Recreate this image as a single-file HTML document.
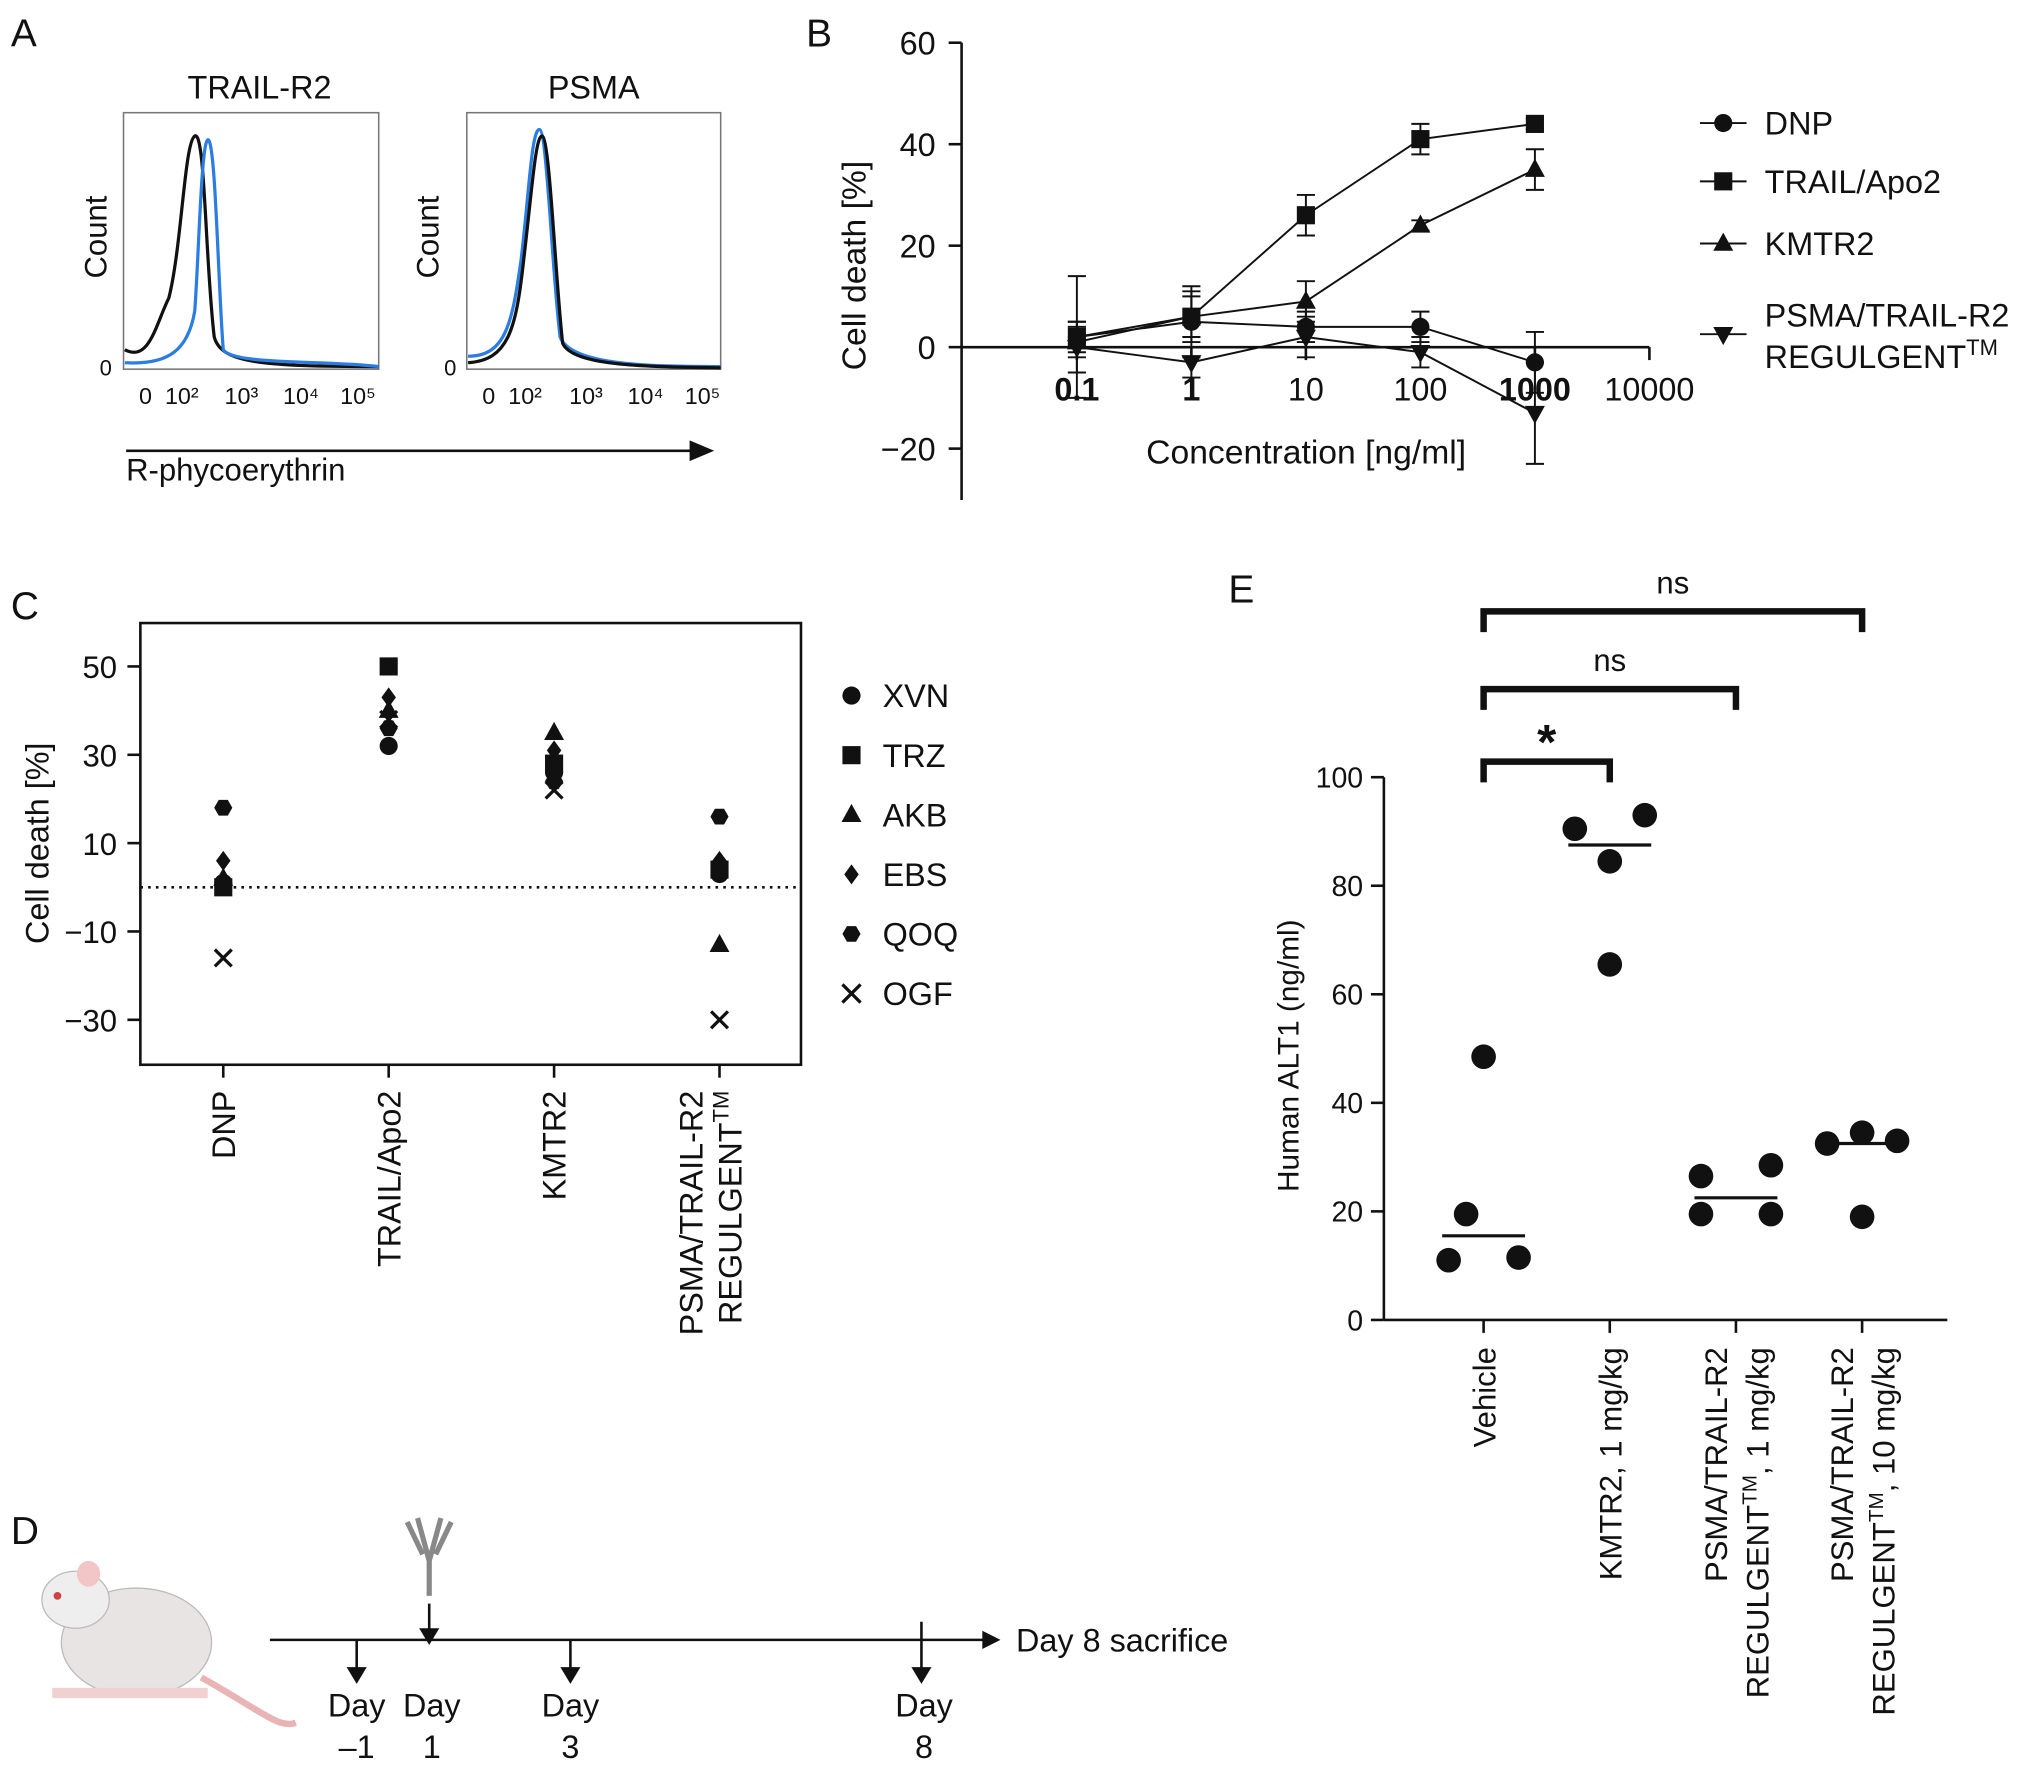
<!DOCTYPE html>
<html><head><meta charset="utf-8"><style>body{margin:0;background:#fff}svg{display:block}text{font-family:"Liberation Sans",sans-serif;fill:#111}</style></head>
<body>
<svg id="fig" width="2032" height="1772" viewBox="0 0 1568 1368" xmlns="http://www.w3.org/2000/svg">
<!-- Panel A -->
<g>
<text x="8" y="36" font-size="30">A</text>
<text x="200" y="76" font-size="25" text-anchor="middle">TRAIL-R2</text>
<text x="458" y="76" font-size="25" text-anchor="middle">PSMA</text>
<rect x="95" y="87" width="197" height="198" fill="none" stroke="#777" stroke-width="1.2"/>
<rect x="360" y="87" width="196" height="198" fill="none" stroke="#777" stroke-width="1.2"/>
<path d="M96 270 C115 280 120 250 130 230 C140 190 142 110 150 105 C158 100 158 200 165 260 C170 280 200 283 292 283" fill="none" stroke="#111" stroke-width="2.5"/>
<path d="M96 280 C130 282 145 270 150 240 C153 200 155 110 160 108 C166 105 168 220 172 270 C180 282 250 278 292 283" fill="none" stroke="#2a7de1" stroke-width="2.5"/>
<path d="M361 275 C390 275 395 250 402 200 C408 150 410 100 416 100 C422 100 425 200 432 260 C440 282 500 283 556 283" fill="none" stroke="#2a7de1" stroke-width="2.5"/>
<path d="M361 280 C392 278 398 255 404 200 C410 150 413 105 418 105 C424 105 428 210 434 265 C442 283 500 283 556 284" fill="none" stroke="#111" stroke-width="2.5"/>
<text x="82" y="183" font-size="24" transform="rotate(-90 82 183)" text-anchor="middle">Count</text>
<text x="338" y="183" font-size="24" transform="rotate(-90 338 183)" text-anchor="middle">Count</text>
<text x="86" y="290" font-size="17" text-anchor="end">0</text><text x="352" y="290" font-size="17" text-anchor="end">0</text>
<g font-size="18">
<text x="112" y="312" text-anchor="middle">0</text><text x="140" y="312" text-anchor="middle">10²</text><text x="186" y="312" text-anchor="middle">10³</text><text x="232" y="312" text-anchor="middle">10⁴</text><text x="276" y="312" text-anchor="middle">10⁵</text>
<text x="377" y="312" text-anchor="middle">0</text><text x="405" y="312" text-anchor="middle">10²</text><text x="452" y="312" text-anchor="middle">10³</text><text x="498" y="312" text-anchor="middle">10⁴</text><text x="542" y="312" text-anchor="middle">10⁵</text>
</g>
<line x1="97" y1="348" x2="535" y2="348" stroke="#111" stroke-width="2"/>
<polygon points="532,340 551,348 532,356" fill="#111"/>
<text x="97" y="371" font-size="24">R-phycoerythrin</text>
</g>
<!-- Panel B -->
<g id="pb">
<text x="622" y="36" font-size="30">B</text>
<text x="668" y="205" font-size="26" transform="rotate(-90 668 205)" text-anchor="middle">Cell death [%]</text>
<text x="1008" y="358" font-size="26" text-anchor="middle">Concentration [ng/ml]</text>
</g>
<!-- Panel C -->
<g id="pc">
<text x="8" y="478" font-size="30">C</text>
<rect x="108" y="481" width="510" height="341" fill="none" stroke="#111" stroke-width="2"/>
<text x="37" y="651" font-size="25" transform="rotate(-90 37 651)" text-anchor="middle">Cell death [%]</text>
</g>
<!-- Panel D -->
<g>
<text x="8" y="1192" font-size="30">D</text>
<g>
<ellipse cx="105" cy="1268" rx="58" ry="42" fill="#e9e4e4" stroke="#bbb"/>
<ellipse cx="58" cy="1235" rx="26" ry="22" fill="#eee" stroke="#bbb"/>
<ellipse cx="68" cy="1215" rx="9" ry="10" fill="#f2c6c6"/>
<circle cx="44" cy="1232" r="3" fill="#c44"/>
<path d="M155 1295 C200 1320 215 1335 228 1330" fill="none" stroke="#e8b4b4" stroke-width="5"/>
<rect x="40" y="1303" width="120" height="8" fill="#f0d0d0"/>
</g>
<line x1="208" y1="1266" x2="760" y2="1266" stroke="#111" stroke-width="2"/>
<polygon points="758,1259 772,1266 758,1273" fill="#111"/>
<text x="784" y="1275" font-size="25">Day 8 sacrifice</text>
<g stroke="#111" stroke-width="2" fill="#111">
<line x1="275" y1="1266" x2="275" y2="1292"/><polygon points="269,1288 281,1288 275,1298"/>
<line x1="331" y1="1238" x2="331" y2="1262"/><polygon points="325,1258 337,1258 331,1268"/>
<line x1="440" y1="1266" x2="440" y2="1292"/><polygon points="434,1288 446,1288 440,1298"/>
<line x1="711" y1="1252" x2="711" y2="1292"/><polygon points="705,1288 717,1288 711,1298"/>
</g>
<path d="M322 1172 L331 1205 L340 1172 M314 1175 L326 1200 M348 1175 L336 1200 M331 1205 L331 1232" fill="none" stroke="#888" stroke-width="4"/>
<g font-size="25" text-anchor="middle">
<text x="275" y="1325">Day</text><text x="275" y="1357">–1</text>
<text x="333" y="1325">Day</text><text x="333" y="1357">1</text>
<text x="440" y="1325">Day</text><text x="440" y="1357">3</text>
<text x="713" y="1325">Day</text><text x="713" y="1357">8</text>
</g>
</g>
<!-- Panel E -->
<g id="pe">
<text x="948" y="465" font-size="30">E</text>
<text x="1002" y="815" font-size="23" transform="rotate(-90 1002 815)" text-anchor="middle">Human ALT1 (ng/ml)</text>
</g>
</svg>
<script>
const NS="http://www.w3.org/2000/svg";
function mk(parent,tag,attrs,txt){const e=document.createElementNS(NS,tag);for(const k in attrs)e.setAttribute(k,attrs[k]);if(txt!==undefined)e.textContent=txt;parent.appendChild(e);return e;}
function marker(g,shape,x,y,s){
  let e;
  if(shape==='circle') e=mk(g,'circle',{cx:x,cy:y,r:s,fill:'#111'});
  else if(shape==='square') e=mk(g,'rect',{x:x-s,y:y-s,width:2*s,height:2*s,fill:'#111'});
  else if(shape==='tri') e=mk(g,'polygon',{points:`${x},${y-s*1.2} ${x-s*1.1},${y+s*0.8} ${x+s*1.1},${y+s*0.8}`,fill:'#111'});
  else if(shape==='tridown') e=mk(g,'polygon',{points:`${x},${y+s*1.2} ${x-s*1.1},${y-s*0.8} ${x+s*1.1},${y-s*0.8}`,fill:'#111'});
  else if(shape==='diamond') e=mk(g,'polygon',{points:`${x},${y-s*1.1} ${x+s*0.8},${y} ${x},${y+s*1.1} ${x-s*0.8},${y}`,fill:'#111'});
  else if(shape==='hex') e=mk(g,'polygon',{points:[0,1,2,3,4,5].map(i=>`${x+s*Math.cos(i*Math.PI/3)},${y+s*Math.sin(i*Math.PI/3)}`).join(' '),fill:'#111'});
  else if(shape==='x') e=mk(g,'path',{d:`M${x-s} ${y-s}L${x+s} ${y+s}M${x+s} ${y-s}L${x-s} ${y+s}`,stroke:'#111','stroke-width':2.5,fill:'none'});
  return e;
}
// ---------- Panel B data ----------
const bConc=[0.1,1,10,100,1000];
const bSeriesNames=["DNP","TRAIL/Apo2","KMTR2","PSMA/TRAIL-R2"];
const bDNP=[2,5,4,4,-3];
const bTRAIL=[2,6,26,41,44];
const bKMTR2=[1,6,9,24,35];
const bPSMA=[0,-3,2,-1,-13];
const bErrDNP=[12,7,3,3,6];
const bErrTRAIL=[3,5,4,3,1];
const bErrKMTR2=[3,4,4,1,4];
const bErrPSMA=[5,3,4,3,10];
const bYTicks=[60,40,20,0,-20];
const bXTicks=["0.1","1","10","100","1000","10000"];
(function(){
  const g=document.getElementById('pb');
  const y=v=>268-v*3.917, x=c=>831+Math.log10(c/0.1)*88.4;
  mk(g,'line',{x1:742,y1:33,x2:742,y2:386,stroke:'#111','stroke-width':2});
  mk(g,'line',{x1:742,y1:268,x2:1273,y2:268,stroke:'#111','stroke-width':2});
  bYTicks.forEach(t=>{mk(g,'line',{x1:732,y1:y(t),x2:742,y2:y(t),stroke:'#111','stroke-width':2});
    const e=mk(g,'text',{x:722,y:y(t)+9,'font-size':25,'text-anchor':'end'},t<0?'−'+(-t):t);
    });
  bXTicks.forEach(t=>{const xx=x(+t);mk(g,'line',{x1:xx,y1:268,x2:xx,y2:278,stroke:'#111','stroke-width':2});
    const e=mk(g,'text',{x:xx,y:309,'font-size':25,'text-anchor':'middle','font-weight':(t==="0.1"||t==="1"||t==="1000")?'bold':'normal'},t);
    });
  const series=[[bDNP,bErrDNP,'circle'],[bTRAIL,bErrTRAIL,'square'],[bKMTR2,bErrKMTR2,'tri'],[bPSMA,bErrPSMA,'tridown']];
  series.forEach(([vals,errs,sh],si)=>{
    const sg=mk(g,'g',{});
    
    
    mk(sg,'polyline',{points:vals.map((v,i)=>x(bConc[i])+','+y(v)).join(' '),fill:'none',stroke:'#111','stroke-width':1.5});
    vals.forEach((v,i)=>{const xx=x(bConc[i]);
      mk(sg,'path',{d:`M${xx} ${y(v+errs[i])}V${y(v-errs[i])}M${xx-7} ${y(v+errs[i])}h14M${xx-7} ${y(v-errs[i])}h14`,stroke:'#111','stroke-width':1.5,fill:'none'});
      const m=marker(sg,sh,xx,y(v),7);});
  });
  const leg=[["DNP",'circle',95],["TRAIL/Apo2",'square',140],["KMTR2",'tri',188],["PSMA/TRAIL-R2",'tridown',258]];
  leg.forEach(([n,sh,ly])=>{const lg=mk(g,'g',{});
    mk(lg,'line',{x1:1312,y1:ly,x2:1348,y2:ly,stroke:'#111','stroke-width':1.5});marker(lg,sh,1330,ly,7);
    if(sh==='tridown'){mk(lg,'text',{x:1362,y:ly-6,'font-size':25},n);const t=mk(lg,'text',{x:1362,y:ly+26,'font-size':25},'REGULGENT');mk(t,'tspan',{'font-size':17,dy:-10},'TM');}
    else mk(lg,'text',{x:1362,y:ly+9,'font-size':25},n);});
})();
// ---------- Panel C data ----------
const cCats=["DNP","TRAIL/Apo2","KMTR2","PSMA/TRAIL-R2"];
const cDonors=["XVN","TRZ","AKB","EBS","QOQ","OGF"];
const cXVN=[1,32,26,3];
const cTRZ=[0,50,28,4];
const cAKB=[2,40,35,-13];
const cEBS=[6,43,31,6];
const cQOQ=[18,36,24,16];
const cOGF=[-16,38,22,-30];
const cYTicks=[50,30,10,-10,-30];
(function(){
  const g=document.getElementById('pc');
  const y=v=>685-v*3.41, x=i=>172+i*127.7;
  cYTicks.forEach(t=>{mk(g,'line',{x1:98,y1:y(t),x2:108,y2:y(t),stroke:'#111','stroke-width':2});
    const e=mk(g,'text',{x:90,y:y(t)+9,'font-size':24,'text-anchor':'end'},t<0?'−'+(-t):t);});
  mk(g,'line',{x1:108,y1:y(0),x2:618,y2:y(0),stroke:'#111','stroke-width':2,'stroke-dasharray':'2 4'});
  cCats.forEach((c,i)=>{mk(g,'line',{x1:x(i),y1:822,x2:x(i),y2:832,stroke:'#111','stroke-width':2});
    const tx=x(i)+9;
    const e=mk(g,'text',{x:tx,y:842,'font-size':25,'text-anchor':'end',transform:`rotate(-90 ${tx} 842)`},c);
    
    if(i===3){e.setAttribute('x',tx-22);e.setAttribute('transform',`rotate(-90 ${tx-22} 842)`);const t=mk(g,'text',{x:tx+8,y:842,'font-size':25,'text-anchor':'end',transform:`rotate(-90 ${tx+8} 842)`},'REGULGENT');mk(t,'tspan',{'font-size':17,dy:-10},'TM');}});
  const shapes=['circle','square','tri','diamond','hex','x'];
  [cXVN,cTRZ,cAKB,cEBS,cQOQ,cOGF].forEach((arr,si)=>{
    arr.forEach((v,i)=>{const m=marker(g,shapes[si],x(i),y(v),shapes[si]==='x'?6.5:7);});
    const ly=537+si*46;const lg=mk(g,'g',{});
    marker(lg,shapes[si],657,ly,7);mk(lg,'text',{x:681,y:ly+9,'font-size':25},cDonors[si]);
  });
})();
// ---------- Panel E data ----------
const eCats=["Vehicle","KMTR2, 1 mg/kg","PSMA/TRAIL-R2 1","PSMA/TRAIL-R2 10"];
const eVehicle=[48.5,19.5,11,11.5];
const eKMTR2=[90.5,93,84.5,65.5];
const ePSMA1=[26.5,28.5,19.5,19.5];
const ePSMA10=[34.5,32.5,33,19];
const eMeans=[15.5,87.5,22.5,32.5];
const eYTicks=[0,20,40,60,80,100];
const eOffsets=[[0,-0.5,-1,1],[-1,1,0,0],[-1,1,-1,1],[0,-1,1,0]];
(function(){
  const g=document.getElementById('pe');
  const y=v=>1019-v*4.19, x=i=>1145+i*97.4;
  mk(g,'line',{x1:1068,y1:y(0),x2:1068,y2:y(100),stroke:'#111','stroke-width':2});
  mk(g,'line',{x1:1068,y1:y(0),x2:1503,y2:y(0),stroke:'#111','stroke-width':2});
  eYTicks.forEach(t=>{mk(g,'line',{x1:1058,y1:y(t),x2:1068,y2:y(t),stroke:'#111','stroke-width':2});
    const e=mk(g,'text',{x:1052,y:y(t)+8,'font-size':22,'text-anchor':'end'},t);});
  const labels=[["Vehicle"],["KMTR2, 1 mg/kg"],["PSMA/TRAIL-R2","REGULGENT|, 1 mg/kg"],["PSMA/TRAIL-R2","REGULGENT|, 10 mg/kg"]];
  labels.forEach((ls,i)=>{mk(g,'line',{x1:x(i),y1:1019,x2:x(i),y2:1029,stroke:'#111','stroke-width':2});
    ls.forEach((l,j)=>{const tx=x(i)+9+(j-(ls.length-1))*32+(ls.length>1?16:0);
      const e=mk(g,'text',{x:tx,y:1040,'font-size':24,'text-anchor':'end',transform:`rotate(-90 ${tx} 1040)`});
      
      if(l.includes('|')){const p=l.split('|');mk(e,'tspan',{},p[0]);mk(e,'tspan',{'font-size':16,dy:-9},'TM');mk(e,'tspan',{dy:9},p[1]);}else e.textContent=l;});});
  [eVehicle,eKMTR2,ePSMA1,ePSMA10].forEach((arr,i)=>{
    arr.forEach((v,j)=>{const c=mk(g,'circle',{cx:x(i)+eOffsets[i][j]*27,cy:y(v),r:9.5,fill:'#111'});});
    const l=mk(g,'line',{x1:x(i)-32,y1:y(eMeans[i]),x2:x(i)+32,y2:y(eMeans[i]),stroke:'#111','stroke-width':2.5});
  });
  const br=[[1,588,'*'],[2,532,'ns'],[3,472,'ns']];
  br.forEach(([j,by,s])=>{const b=mk(g,'path',{d:`M${x(0)} ${by+16}V${by}H${x(j)}V${by+16}`,fill:'none',stroke:'#111','stroke-width':5});
    
    const t=mk(g,'text',{x:(x(0)+x(j))/2,y:s==='*'?by-2:by-14,'font-size':s==='*'?38:24,'text-anchor':'middle','font-weight':s==='*'?'bold':'normal'},s);
    });
})();
</script>
</body></html>
